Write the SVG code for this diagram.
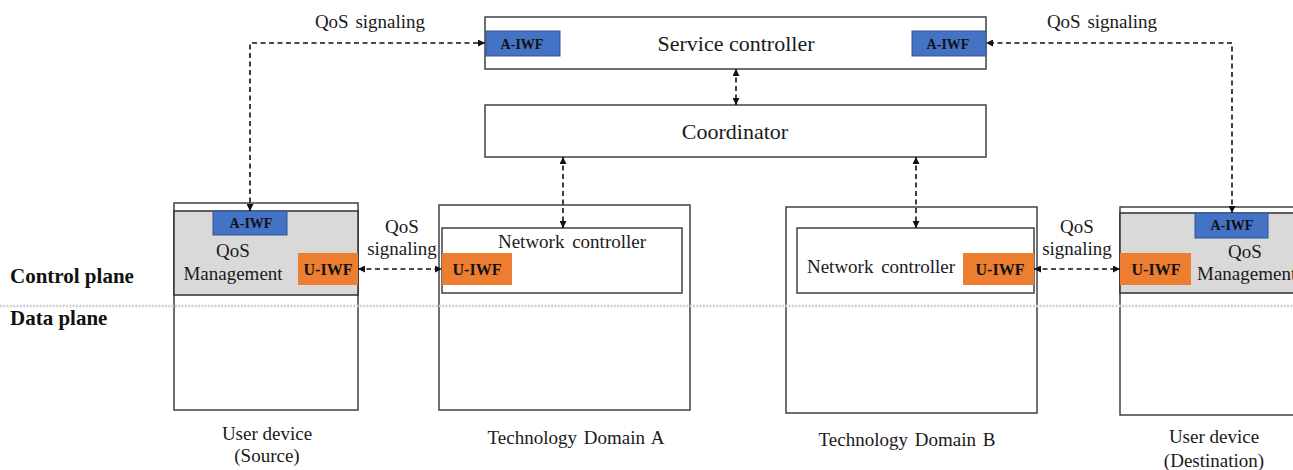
<svg xmlns="http://www.w3.org/2000/svg" width="1293" height="470" viewBox="0 0 1293 470">
<style>
.box{fill:#fff;stroke:#404040;stroke-width:1.5}
.grey{fill:#D9D9D9;stroke:#303030;stroke-width:1.5}
.aiwf{fill:#4472C4;stroke:#2F5597;stroke-width:1}
.uiwf{fill:#ED7D31}
.t{font-family:"Liberation Serif","Times New Roman",serif;fill:#1a1a1a;text-anchor:middle}
.big{font-size:22px}
.mid{font-size:19px}
.lbl{font-family:"Liberation Serif","Times New Roman",serif;font-weight:bold;fill:#111;text-anchor:middle}
.plane{font-family:"Liberation Serif","Times New Roman",serif;font-weight:bold;font-size:21px;fill:#111}
.conn{fill:none;stroke:#111;stroke-width:1.6;stroke-dasharray:5 3.5;marker-start:url(#ah);marker-end:url(#ah)}
</style>
<defs>
<marker id="ah" viewBox="0 0 8 8" refX="8" refY="4" markerWidth="7" markerHeight="7" markerUnits="userSpaceOnUse" orient="auto-start-reverse">
<path d="M0,0 L8,4 L0,8 Z" fill="#111"/>
</marker>
</defs>
<rect width="1293" height="470" fill="#fff"/>

<g id="service-controller">
<rect class="box" x="485" y="17" width="501" height="52"/>
<rect class="aiwf" x="486" y="31" width="74" height="25"/>
<text class="lbl" x="522" y="49" font-size="14">A-IWF</text>
<rect class="aiwf" x="912" y="31" width="74" height="25"/>
<text class="lbl" x="948" y="49" font-size="14">A-IWF</text>
<text class="t big" x="736" y="51">Service controller</text>
</g>

<g id="coordinator">
<rect class="box" x="485" y="105" width="501" height="52"/>
<text class="t big" x="735" y="139">Coordinator</text>
</g>

<g id="user-device-source">
<rect class="box" x="174" y="203" width="184" height="207"/>
<rect class="grey" x="174" y="211" width="184" height="84"/>
<rect class="aiwf" x="213" y="211" width="74" height="24"/>
<text class="lbl" x="251" y="228" font-size="14">A-IWF</text>
<text class="t mid" x="233" y="257">QoS</text>
<text class="t mid" x="233" y="280">Management</text>
<rect class="uiwf" x="298" y="253" width="60" height="32"/>
<text class="lbl" x="328" y="275" font-size="16">U-IWF</text>
<text class="t mid" x="267" y="440">User device</text>
<text class="t mid" x="267" y="462">(Source)</text>
</g>

<g id="domain-a">
<rect class="box" x="439" y="205" width="251" height="205"/>
<rect class="box" x="442" y="228" width="240" height="65"/>
<text class="t mid" x="572" y="248" word-spacing="3">Network controller</text>
<rect class="uiwf" x="442" y="253" width="70" height="32"/>
<text class="lbl" x="477" y="275" font-size="16">U-IWF</text>
<text class="t mid" x="576" y="444" word-spacing="2">Technology Domain A</text>
</g>

<g id="domain-b">
<rect class="box" x="786" y="207" width="251" height="206"/>
<rect class="box" x="797" y="228" width="237" height="65"/>
<text class="t mid" x="881" y="273" word-spacing="3">Network controller</text>
<rect class="uiwf" x="963" y="253" width="71" height="32"/>
<text class="lbl" x="1000" y="275" font-size="16">U-IWF</text>
<text class="t mid" x="907" y="446" word-spacing="2">Technology Domain B</text>
</g>

<g id="user-device-destination">
<rect class="box" x="1120" y="207" width="185" height="208"/>
<rect class="grey" x="1120" y="213" width="185" height="80"/>
<rect class="aiwf" x="1195" y="213" width="73" height="25"/>
<text class="lbl" x="1232" y="230" font-size="14">A-IWF</text>
<text class="t mid" x="1245" y="258">QoS</text>
<text class="t mid" x="1197" y="280" style="text-anchor:start">Management</text>
<rect class="uiwf" x="1120" y="253" width="71" height="32"/>
<text class="lbl" x="1156" y="275" font-size="16">U-IWF</text>
<text class="t mid" x="1214" y="443">User device</text>
<text class="t mid" x="1214" y="467">(Destination)</text>
</g>

<g id="plane-labels">
<line x1="0" y1="306" x2="1293" y2="306" stroke="#CFCFCF" stroke-width="2.5" stroke-dasharray="2 1.3"/>
<text class="plane" x="10" y="283">Control plane</text>
<text class="plane" x="10" y="325">Data plane</text>
</g>

<g id="connectors">
<path class="conn" d="M250,211 V43 H485"/>
<path class="conn" d="M1232,213 V43 H986"/>
<path class="conn" d="M736,69 V105"/>
<path class="conn" d="M563,157 V228"/>
<path class="conn" d="M916,157 V228"/>
<path class="conn" d="M358,269 H442"/>
<path class="conn" d="M1034,269 H1120"/>
<text class="t mid" x="370" y="28" word-spacing="2">QoS signaling</text>
<text class="t mid" x="1102" y="28" word-spacing="2">QoS signaling</text>
<text class="t mid" x="402" y="233">QoS</text>
<text class="t mid" x="402" y="255">signaling</text>
<text class="t mid" x="1077" y="233">QoS</text>
<text class="t mid" x="1077" y="255">signaling</text>
</g>
</svg>
